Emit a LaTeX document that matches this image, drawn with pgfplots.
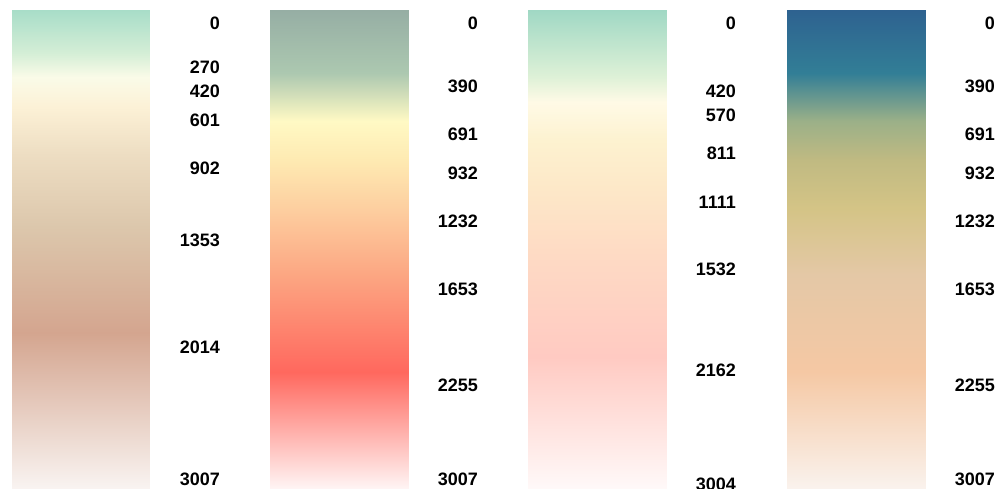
\documentclass[border=0pt]{standalone}
\usepackage{pgfplots}
\pgfplotsset{compat=1.18}
\usepackage{fontspec}
\setmainfont{Liberation Sans}

\pgfplotsset{
  colormap={bA}{rgb255(0pt)=(168,221,200) rgb255(270pt)=(212,238,214) rgb255(420pt)=(250,251,232) rgb255(601pt)=(252,241,214) rgb255(902pt)=(237,221,194) rgb255(1353pt)=(220,199,172) rgb255(2014pt)=(212,165,143) rgb255(3007pt)=(250,246,244)},
  colormap={bB}{rgb255(0pt)=(150,174,164) rgb255(390pt)=(172,200,176) rgb255(691pt)=(255,249,196) rgb255(932pt)=(254,234,178) rgb255(1232pt)=(253,207,160) rgb255(1653pt)=(252,166,130) rgb255(2255pt)=(255,104,94) rgb255(3007pt)=(255,250,250)},
  colormap={bC}{rgb255(0pt)=(160,216,196) rgb255(420pt)=(222,241,215) rgb255(570pt)=(255,250,230) rgb255(811pt)=(253,242,208) rgb255(1111pt)=(253,232,200) rgb255(1532pt)=(254,218,196) rgb255(2162pt)=(255,202,194) rgb255(3004pt)=(255,250,250)},
  colormap={bD}{rgb255(0pt)=(46,98,144) rgb255(390pt)=(50,126,150) rgb255(691pt)=(155,176,136) rgb255(932pt)=(192,186,130) rgb255(1232pt)=(212,196,134) rgb255(1653pt)=(228,200,166) rgb255(2255pt)=(245,200,164) rgb255(3007pt)=(250,244,240)},
  barax/.style={
    scale only axis, width=138bp, height=479bp,
    xmin=0, xmax=1, ymin=0, ymax=2982.6, y dir=reverse,
    hide axis, anchor=south west, clip mode=individual,
    point meta min=0,
  },
}
\tikzset{lab/.style={anchor=east, inner sep=0pt, font=\fontsize{18bp}{20bp}\selectfont\bfseries}}
\newcommand\lab[2]{\node[lab] at ([xshift=70bp,yshift=-13.5bp]axis cs:1,#1) {#2};}
\newcommand\lastlab[2]{\node[lab] at ([xshift=70bp,yshift=#1]axis cs:1,2982.6) {#2};}

\pgfplotstableread{
x y
0 0
1 0
0 270
1 270
0 420
1 420
0 601
1 601
0 902
1 902
0 1353
1 1353
0 2014
1 2014
0 3007
1 3007
}\tabA
\pgfplotstableread{
x y
0 0
1 0
0 390
1 390
0 691
1 691
0 932
1 932
0 1232
1 1232
0 1653
1 1653
0 2255
1 2255
0 3007
1 3007
}\tabB
\pgfplotstableread{
x y
0 0
1 0
0 420
1 420
0 570
1 570
0 811
1 811
0 1111
1 1111
0 1532
1 1532
0 2162
1 2162
0 3004
1 3004
}\tabC

\begin{document}
\begin{tikzpicture}
\path[use as bounding box] (0,0) rectangle (1003bp,489bp);

\begin{axis}[barax, at={(12bp,0bp)}, colormap name=bA, point meta max=3007]
\addplot[surf, shader=interp, mesh/cols=2, mesh/ordering=x varies, point meta=\thisrow{y}] table {\tabA};
\lab{0}{0}\lab{270}{270}\lab{420}{420}\lab{601}{601}\lab{902}{902}\lab{1353}{1353}\lab{2014}{2014}
\lastlab{10bp}{3007}
\end{axis}

\begin{axis}[barax, at={(270bp,0bp)}, colormap name=bB, point meta max=3007]
\addplot[surf, shader=interp, mesh/cols=2, mesh/ordering=x varies, point meta=\thisrow{y}] table {\tabB};
\lab{0}{0}\lab{390}{390}\lab{691}{691}\lab{932}{932}\lab{1232}{1232}\lab{1653}{1653}\lab{2255}{2255}
\lastlab{10bp}{3007}
\end{axis}

\begin{axis}[barax, at={(528bp,0bp)}, colormap name=bC, point meta max=3004]
\addplot[surf, shader=interp, mesh/cols=2, mesh/ordering=x varies, point meta=\thisrow{y}] table {\tabC};
\lab{0}{0}\lab{420}{420}\lab{570}{570}\lab{811}{811}\lab{1111}{1111}\lab{1532}{1532}\lab{2162}{2162}
\lastlab{5bp}{3004}
\end{axis}

\begin{axis}[barax, at={(787bp,0bp)}, colormap name=bD, point meta max=3007]
\addplot[surf, shader=interp, mesh/cols=2, mesh/ordering=x varies, point meta=\thisrow{y}] table {\tabB};
\lab{0}{0}\lab{390}{390}\lab{691}{691}\lab{932}{932}\lab{1232}{1232}\lab{1653}{1653}\lab{2255}{2255}
\lastlab{10bp}{3007}
\end{axis}
\end{tikzpicture}
\end{document}
